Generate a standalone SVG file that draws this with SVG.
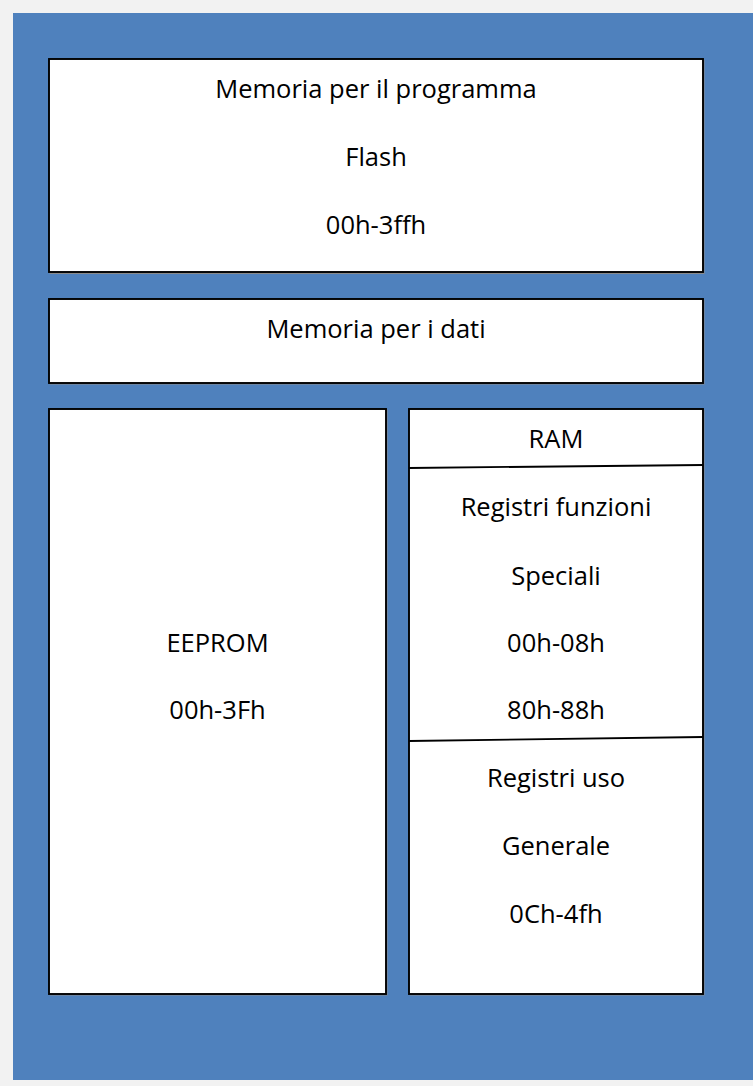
<svg xmlns="http://www.w3.org/2000/svg" width="753" height="1086" viewBox="0 0 753 1086">
  <style>
    .box { fill: #ffffff; stroke: #000000; stroke-width: 1.9; }
    .shadow { fill: none; stroke: #8a8a8a; stroke-width: 1; }
    .div { stroke: #000000; stroke-width: 1.8; fill: none; }
    text { font-family: "Open Sans", "Noto Sans", sans-serif; font-size: 25.5px; fill: #000000; text-anchor: middle; }
  </style>
  <!-- page and blue panel -->
  <rect x="0" y="0" width="753" height="1086" fill="#f2f2f2"/>
  <rect x="13" y="13" width="740" height="1067" fill="#4f81bd"/>

  <g id="flash">
    <rect class="shadow" x="50" y="60" width="654" height="213.5"/>
    <rect class="box" x="49" y="59" width="654" height="213"/>
    <text x="376" y="98">Memoria per il programma</text>
    <text x="376" y="166">Flash</text>
    <text x="376" y="234">00h-3ffh</text>
  </g>

  <g id="data-memory">
    <rect class="shadow" x="50" y="300" width="654" height="84"/>
    <rect class="box" x="49" y="299" width="654" height="84"/>
    <text x="376" y="338">Memoria per i dati</text>
  </g>

  <g id="eeprom">
    <rect class="shadow" x="50" y="410" width="337" height="585"/>
    <rect class="box" x="49" y="409" width="337" height="585"/>
    <text x="217.5" y="652">EEPROM</text>
    <text x="217.5" y="719">00h-3Fh</text>
  </g>

  <g id="ram">
    <rect class="shadow" x="410" y="410" width="294" height="585"/>
    <rect class="box" x="409" y="409" width="294" height="585"/>
    <text x="556" y="448">RAM</text>
    <text x="556" y="516">Registri funzioni</text>
    <text x="556" y="585">Speciali</text>
    <text x="556" y="652">00h-08h</text>
    <text x="556" y="719">80h-88h</text>
    <text x="556" y="787">Registri uso</text>
    <text x="556" y="855">Generale</text>
    <text x="556" y="923">0Ch-4fh</text>
  </g>

  <g id="connectors">
    <line class="div" x1="409" y1="468" x2="703" y2="465"/>
    <line class="div" x1="409" y1="741" x2="703" y2="737"/>
  </g>
</svg>
